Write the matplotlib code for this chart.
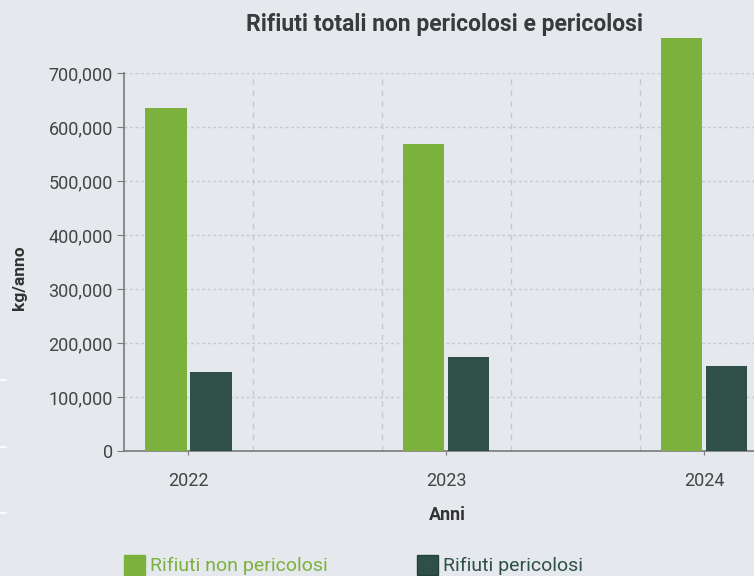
import matplotlib
matplotlib.use('Agg')
from matplotlib import pyplot as plt
from matplotlib.patches import Patch
from matplotlib.lines import Line2D
from matplotlib.ticker import FuncFormatter
import numpy as np

anni = [2022, 2023, 2024]
non_pericolosi = [635000, 568500, 765000]
pericolosi = [146000, 174000, 157500]
serie = ['Rifiuti non pericolosi', 'Rifiuti pericolosi']
colori = ['#7cb13e', '#2e5046']
sfondo = '#e5e8ec'

plt.rcParams['font.family'] = ['Roboto', 'DejaVu Sans']

fig = plt.figure(figsize=(7.54, 5.76), dpi=100, facecolor=sfondo)
ax = fig.add_axes([124/754, 1-451/576, 1-124/754, (451-73)/576])
ax.set_facecolor(sfondo)

x = np.array(anni, dtype=float)
w = 0.16
ax.bar(x - 0.0875, non_pericolosi, w, color=colori[0], clip_on=False, zorder=3)
ax.bar(x + 0.0875, pericolosi, w, color=colori[1], clip_on=False, zorder=3)

ax.set_xlim(2021.75, 2024.194)
ax.set_ylim(0, 700000)
ax.set_yticks(range(0, 700001, 100000))
ax.yaxis.set_major_formatter(FuncFormatter(lambda v, p: f'{int(v):,}'))
ax.set_xticks(anni)
ax.set_xticklabels([str(a) for a in anni])
ax.set_xticks([2022.25, 2022.75, 2023.25, 2023.75], minor=True)

ax.grid(axis='y', which='major', color='#c5c8cc', linestyle=(0, (2, 2)), linewidth=1, zorder=0)
ax.grid(axis='x', which='minor', color='#c5c8cc', linestyle=(0, (4, 4)), linewidth=1, zorder=0)
ax.grid(axis='x', which='major', visible=False)

for s in ['top', 'right']:
    ax.spines[s].set_visible(False)
for s in ['left', 'bottom']:
    ax.spines[s].set_color('#7a7a7a')
    ax.spines[s].set_linewidth(1.2)

ax.tick_params(axis='y', length=5, color='#7a7a7a', labelsize=13, labelcolor='#444444', pad=3)
ax.tick_params(axis='x', which='major', length=3, color='#7a7a7a', labelsize=13, labelcolor='#444444', pad=12)
ax.tick_params(axis='x', which='minor', length=0)

fig.text(445/754, 1-25/576, 'Rifiuti totali non pericolosi e pericolosi', ha='center', va='center',
         fontsize=16.5, fontweight='bold', color='#3a3a3a')
fig.text(20/754, 1-278/576, 'kg/anno', rotation=90, ha='center', va='center',
         fontsize=12.5, fontweight='bold', color='#333333')
fig.text(447/754, 1-515/576, 'Anni', ha='center', va='center',
         fontsize=13, fontweight='bold', color='#333333')

handles = [Patch(facecolor=colori[0], edgecolor=colori[0]),
           Patch(facecolor=colori[1], edgecolor='#24403a')]
leg = fig.legend(handles, serie, loc='center left', bbox_to_anchor=(124/754, 1-565/576),
                 ncol=2, frameon=False, fontsize=14, borderpad=0, borderaxespad=0,
                 handlelength=1.08, handleheight=1.25, handletextpad=0.25, columnspacing=4.6)
for t, c in zip(leg.get_texts(), colori):
    t.set_color(c)

# piccoli segni bianchi sul bordo sinistro
for yy in [380, 447, 513]:
    fig.add_artist(Line2D([0, 6/754], [1-yy/576, 1-yy/576], color='white', linewidth=1.2))

fig.savefig('out.png', dpi=100, facecolor=sfondo)
